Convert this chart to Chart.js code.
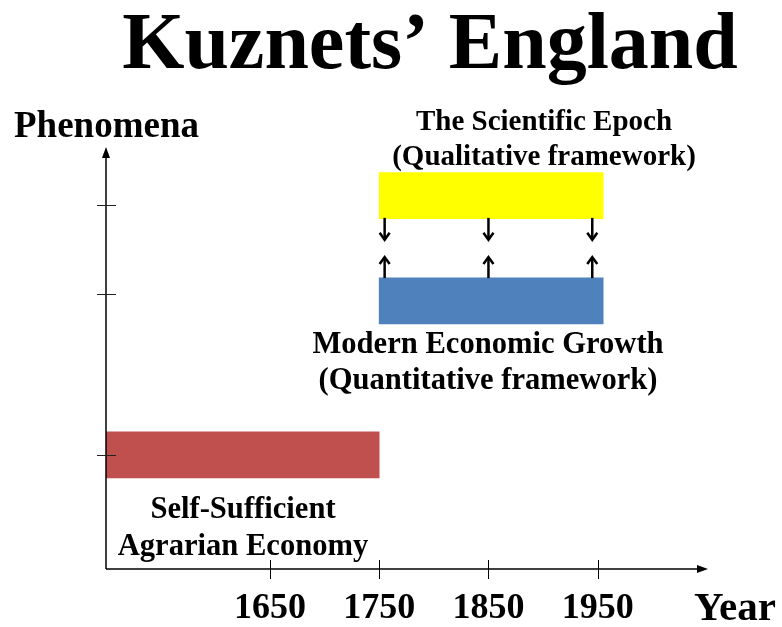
<!DOCTYPE html>
<html><head><meta charset="utf-8">
<script src="https://cdn.jsdelivr.net/npm/chart.js@4/dist/chart.umd.min.js"></script>
<style>html,body{margin:0;padding:0;background:#fff;}</style>
</head><body>
<canvas id="c" width="782" height="627"></canvas>
<script>
// ---- data ----
const phases = ['Self-Sufficient Agrarian Economy', 'Modern Economic Growth', 'The Scientific Epoch'];
const phaseStart = [1500, 1750, 1750];
const phaseEnd = [1750, 1955, 1955];
const phaseLevel = [27.1, 63.7, 88.7];
const phaseColors = ['#C0504D', '#4F81BD', '#FFFF00'];
const yearTicks = [1650, 1750, 1850, 1950];
const levelTicks = [27.1, 65.3, 86.5];
const linkYears = [1755, 1850, 1945];
const downArrow = [83.4, 78.2];
const upArrow = [69.1, 74.1];
const titleText = 'Kuznets\u2019 England';
const yAxisTitle = 'Phenomena';
const xAxisTitle = 'Year';
const scientificLabel = ['The Scientific Epoch', '(Qualitative framework)'];
const modernLabel = ['Modern Economic Growth', '(Quantitative framework)'];
const agrarianLabel = ['Self-Sufficient', 'Agrarian Economy'];

const FONT = '"Liberation Serif", "Times New Roman", serif';

const decor = {
  id: 'decor',
  afterDraw(chart) {
    const {ctx, chartArea: a, scales: {x, y}} = chart;
    ctx.save();
    // axes
    ctx.strokeStyle = '#000';
    ctx.fillStyle = '#000';
    ctx.lineWidth = 1.5;
    ctx.beginPath();
    ctx.moveTo(a.left, a.bottom);
    ctx.lineTo(a.left, a.top + 8);
    ctx.moveTo(a.left, a.bottom);
    ctx.lineTo(a.right - 8, a.bottom);
    ctx.stroke();
    ctx.beginPath();
    ctx.moveTo(a.left, a.top - 1);
    ctx.lineTo(a.left - 4, a.top + 10);
    ctx.lineTo(a.left + 4, a.top + 10);
    ctx.closePath();
    ctx.fill();
    ctx.beginPath();
    ctx.moveTo(a.right + 1, a.bottom);
    ctx.lineTo(a.right - 10, a.bottom - 4);
    ctx.lineTo(a.right - 10, a.bottom + 4);
    ctx.closePath();
    ctx.fill();
    // tick marks
    ctx.lineWidth = 1;
    ctx.strokeStyle = '#222';
    levelTicks.forEach(v => {
      const py = Math.round(y.getPixelForValue(v)) + 0.5;
      ctx.beginPath(); ctx.moveTo(a.left - 9, py); ctx.lineTo(a.left + 10, py); ctx.stroke();
    });
    ctx.strokeStyle = '#000';
    yearTicks.forEach(v => {
      const px = Math.round(x.getPixelForValue(v)) + 0.5;
      ctx.beginPath(); ctx.moveTo(px, a.bottom - 9); ctx.lineTo(px, a.bottom + 10); ctx.stroke();
    });
    // link arrows
    ctx.lineWidth = 2.5;
    ctx.strokeStyle = '#000';
    linkYears.forEach(yr => {
      const px = x.getPixelForValue(yr);
      const d0 = y.getPixelForValue(downArrow[0]), d1 = y.getPixelForValue(downArrow[1]);
      ctx.beginPath(); ctx.moveTo(px, d0); ctx.lineTo(px, d1 - 1); ctx.stroke();
      ctx.beginPath(); ctx.moveTo(px - 5, d1 - 7); ctx.lineTo(px, d1); ctx.lineTo(px + 5, d1 - 7); ctx.stroke();
      const u0 = y.getPixelForValue(upArrow[0]), u1 = y.getPixelForValue(upArrow[1]);
      ctx.beginPath(); ctx.moveTo(px, u0); ctx.lineTo(px, u1 + 1); ctx.stroke();
      ctx.beginPath(); ctx.moveTo(px - 5, u1 + 7); ctx.lineTo(px, u1); ctx.lineTo(px + 5, u1 + 7); ctx.stroke();
    });
    // texts
    ctx.fillStyle = '#000';
    ctx.textBaseline = 'alphabetic';
    ctx.textAlign = 'center';
    ctx.font = 'bold 80px ' + FONT;
    ctx.fillText(titleText, 430, 68);
    ctx.font = 'bold 29px ' + FONT;
    ctx.fillText(scientificLabel[0], 544, 130);
    ctx.fillText(scientificLabel[1], 544, 165);
    ctx.font = 'bold 30.6px ' + FONT;
    ctx.fillText(modernLabel[0], 488, 353);
    ctx.fillText(modernLabel[1], 488, 389);
    ctx.fillText(agrarianLabel[0], 243, 518);
    ctx.fillText(agrarianLabel[1], 243, 555);
    ctx.textAlign = 'left';
    ctx.font = 'bold 37px ' + FONT;
    ctx.fillText(yAxisTitle, 14, 137);
    ctx.font = 'bold 41px ' + FONT;
    ctx.fillText(xAxisTitle, 694, 620);
    ctx.restore();
  }
};

new Chart(document.getElementById('c'), {
  type: 'bar',
  data: {
    datasets: [{
      label: 'Phases',
      data: phases.map((p, i) => ({x: [phaseStart[i], phaseEnd[i]], y: phaseLevel[i]})),
      backgroundColor: phaseColors,
      borderWidth: 0,
      barThickness: 46
    }]
  },
  options: {
    indexAxis: 'y',
    responsive: false,
    animation: false,
    layout: {padding: {left: 106, right: 75, top: 148, bottom: 0}},
    plugins: {legend: {display: false}, tooltip: {enabled: false}, title: {display: false}},
    scales: {
      x: {
        type: 'linear', min: 1500, max: 2050, offset: false,
        afterBuildTicks: s => { s.ticks = yearTicks.map(v => ({value: v})); },
        grid: {display: true, drawOnChartArea: false, color: 'rgba(0,0,0,0)', tickLength: 22, offset: false},
        border: {display: false},
        ticks: {
          font: {family: FONT, size: 36, weight: 'bold', lineHeight: 1},
          color: '#000', padding: 0, maxRotation: 0, autoSkip: false,
          callback: v => String(v)
        }
      },
      y: {type: 'linear', min: 0, max: 100, display: false, offset: false, grid: {offset: false}}
    }
  },
  plugins: [decor]
});
</script>
</body></html>
